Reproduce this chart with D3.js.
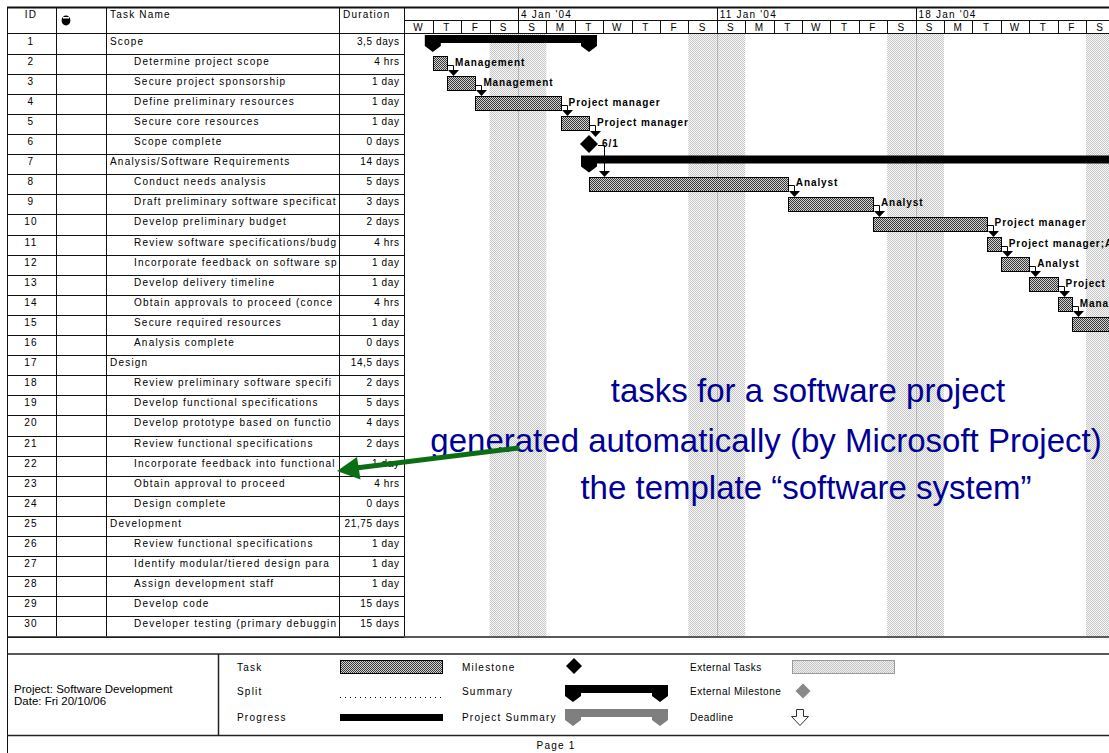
<!DOCTYPE html>
<html>
<head>
<meta charset="utf-8">
<script src="https://cdn.jsdelivr.net/npm/d3@7"></script>
<style>
body { margin: 0; background: #fff; }
svg { display: block; font-family: "Liberation Sans", Arial, sans-serif; }
.t { font-size: 10px; letter-spacing: 1.2px; fill: #000; }
.lbl { font-size: 10px; font-weight: bold; letter-spacing: 0.9px; fill: #000; }
</style>
</head>
<body>
<svg id="canvas"></svg>
<script>
// task table
const ids = [1,2,3,4,5,6,7,8,9,10,11,12,13,14,15,16,17,18,19,20,21,22,23,24,25,26,27,28,29,30]
const names = [
  "Scope", "Determine project scope", "Secure project sponsorship", "Define preliminary resources",
  "Secure core resources", "Scope complete", "Analysis/Software Requirements", "Conduct needs analysis",
  "Draft preliminary software specifications", "Develop preliminary budget",
  "Review software specifications/budget", "Incorporate feedback on software specifications",
  "Develop delivery timeline", "Obtain approvals to proceed (concept, deadlines, budget)",
  "Secure required resources", "Analysis complete", "Design",
  "Review preliminary software specifications", "Develop functional specifications",
  "Develop prototype based on functional specifications", "Review functional specifications",
  "Incorporate feedback into functional specifications", "Obtain approval to proceed",
  "Design complete", "Development", "Review functional specifications",
  "Identify modular/tiered design parameters", "Assign development staff", "Develop code",
  "Developer testing (primary debugging)"
]
const durations = [
  "3,5 days", "4 hrs", "1 day", "1 day", "1 day", "0 days", "14 days", "5 days", "3 days", "2 days",
  "4 hrs", "1 day", "1 day", "4 hrs", "1 day", "0 days", "14,5 days", "2 days", "5 days", "4 days",
  "2 days", "1 day", "4 hrs", "0 days", "21,75 days", "1 day", "1 day", "1 day", "15 days", "15 days"
]
const kinds = [
  "summary", "task", "task", "task", "task", "milestone", "summary", "task", "task", "task",
  "task", "task", "task", "task", "task", "milestone", "summary", "task", "task", "task",
  "task", "task", "task", "milestone", "summary", "task", "task", "task", "task", "task"
]
// 00:00 = start of the working day, 12:00 = midday
const starts = [
  "2004-01-01 00:00", "2004-01-01 00:00", "2004-01-01 12:00", "2004-01-02 12:00", "2004-01-05 12:00",
  "2004-01-06 12:00", "2004-01-06 12:00", "2004-01-06 12:00", "2004-01-13 12:00", "2004-01-16 12:00",
  "2004-01-20 12:00", "2004-01-21 00:00", "2004-01-22 00:00", "2004-01-23 00:00", "2004-01-23 12:00",
  "2004-01-26 12:00", "2004-01-26 12:00", "2004-01-26 12:00", "2004-01-28 12:00", "2004-02-04 12:00",
  "2004-02-10 12:00", "2004-02-12 12:00", "2004-02-13 12:00", "2004-02-14 00:00", "2004-02-16 00:00",
  "2004-02-16 00:00", "2004-02-17 00:00", "2004-02-18 00:00", "2004-02-19 00:00", "2004-02-20 00:00"
]
const finishes = [
  "2004-01-06 12:00", "2004-01-01 12:00", "2004-01-02 12:00", "2004-01-05 12:00", "2004-01-06 12:00",
  "2004-01-06 12:00", "2004-01-26 12:00", "2004-01-13 12:00", "2004-01-16 12:00", "2004-01-20 12:00",
  "2004-01-21 00:00", "2004-01-22 00:00", "2004-01-23 00:00", "2004-01-23 12:00", "2004-01-26 12:00",
  "2004-01-26 12:00", "2004-02-14 00:00", "2004-01-28 12:00", "2004-02-04 12:00", "2004-02-10 12:00",
  "2004-02-12 12:00", "2004-02-13 12:00", "2004-02-14 00:00", "2004-02-14 00:00", "2004-03-16 18:00",
  "2004-02-17 00:00", "2004-02-18 00:00", "2004-02-19 00:00", "2004-03-11 00:00", "2004-03-12 00:00"
]
const resources = [
  "", "Management", "Management", "Project manager", "Project manager", "", "", "Analyst", "Analyst",
  "Project manager", "Project manager;Analyst", "Analyst", "Project manager", "Management",
  "Project manager", "", "", "Analyst", "Analyst", "Analyst", "Management;Analyst", "Analyst",
  "Management", "", "", "Developer", "Developer", "Project manager", "Developer", "Developer"
]
const links = [[2,3],[3,4],[4,5],[5,6],[6,8],[8,9],[9,10],[10,11],[11,12],[12,13],[13,14],[14,15]]
const viewRange = ["2003-12-31 00:00", "2004-01-25 00:00"]
const noteLines = ["tasks for a software project", "generated automatically (by Microsoft Project)", "the template \u201csoftware system\u201d"]
const legendLeft = ["Task", "Split", "Progress"]
const legendMid = ["Milestone", "Summary", "Project Summary"]
const legendRight = ["External Tasks", "External Milestone", "Deadline"]

const W = 1109, H = 753
const svg = d3.select("#canvas").attr("width", W).attr("height", H)
const parse = d3.timeParse("%Y-%m-%d %H:%M")
const c = v => Math.round(v) + 0.5

const tasks = ids.map((id, i) => ({
  id, name: names[i], dur: durations[i], kind: kinds[i],
  start: parse(starts[i]), end: parse(finishes[i]), res: resources[i]
}))
const byId = new Map(tasks.map(d => [d.id, d]))

const headTop = 7, tierY = 20, bodyTop = 33.5, rowH = 20.1
const cols = [7, 56, 106, 339, 404]
const bodyBottom = bodyTop + ids.length * rowH

const x = d3.scaleTime()
  .domain(viewRange.map(parse))
  .range([404.4, 404.4 + 25 * 28.4])
const y = d3.scaleBand().domain(ids).range([bodyTop, bodyBottom])
const cy = id => y(id) + y.bandwidth() / 2

const defs = svg.append("defs")
function stipple(id, bg, fg) {
  const p = defs.append("pattern").attr("id", id)
    .attr("width", 2).attr("height", 2).attr("patternUnits", "userSpaceOnUse")
  p.append("rect").attr("width", 2).attr("height", 2).attr("fill", bg)
  p.append("rect").attr("width", 1).attr("height", 1).attr("fill", fg)
  p.append("rect").attr("x", 1).attr("y", 1).attr("width", 1).attr("height", 1).attr("fill", fg)
}
stipple("wknd", "#f8f8f8", "#c6c6c6")
stipple("bar", "#d2d2d2", "#383838")
stipple("ext", "#f0f0f0", "#c4c4c4")
defs.append("clipPath").attr("id", "gclip").append("rect")
  .attr("x", 405).attr("y", 0).attr("width", W - 405).attr("height", bodyBottom)

// ---- gantt background
const days = d3.timeDay.range(...x.domain())
const weeks = d3.timeWeek.range(...x.domain())
const gantt = svg.append("g").attr("clip-path", "url(#gclip)")

gantt.selectAll("rect.wk")
  .data(days.filter(d => d.getDay() % 6 === 0))
  .join("rect").attr("class", "wk")
  .attr("x", d => x(d)).attr("width", d => x(d3.timeDay.offset(d, 1)) - x(d))
  .attr("y", bodyTop).attr("height", bodyBottom - bodyTop)
  .attr("fill", "url(#wknd)")

gantt.selectAll("line.wl")
  .data(weeks)
  .join("line").attr("class", "wl")
  .attr("x1", d => c(x(d))).attr("x2", d => c(x(d)))
  .attr("y1", bodyTop).attr("y2", bodyBottom)
  .attr("stroke", "#8a8a8a").attr("stroke-dasharray", "1,1")

// ---- timescale header
const head = svg.append("g").attr("clip-path", "url(#gclip)")
head.selectAll("line.ds")
  .data(days)
  .join("line").attr("class", "ds")
  .attr("x1", d => c(x(d))).attr("x2", d => c(x(d)))
  .attr("y1", tierY).attr("y2", bodyTop)
  .attr("stroke", "#111")
head.selectAll("text.dl")
  .data(days)
  .join("text").attr("class", "t dl")
  .attr("x", d => x(d) + 14.2).attr("y", 30.5)
  .attr("text-anchor", "middle")
  .text(d => d3.timeFormat("%a")(d)[0])
head.selectAll("line.ws")
  .data(weeks)
  .join("line").attr("class", "ws")
  .attr("x1", d => c(x(d))).attr("x2", d => c(x(d)))
  .attr("y1", headTop).attr("y2", tierY)
  .attr("stroke", "#111")
head.selectAll("text.wlab")
  .data(weeks)
  .join("text").attr("class", "t wlab")
  .attr("x", d => x(d) + 3).attr("y", 17.5)
  .text(d => d3.timeFormat("%-d %b '%y")(d))
svg.append("line").attr("x1", cols[4]).attr("x2", W).attr("y1", c(tierY)).attr("y2", c(tierY)).attr("stroke", "#111")

// ---- table grid
const grid = svg.append("g").attr("stroke", "#111")
grid.selectAll("line.rl")
  .data(ids)
  .join("line").attr("class", "rl")
  .attr("x1", cols[0]).attr("x2", cols[4])
  .attr("y1", d => c(y(d) + rowH)).attr("y2", d => c(y(d) + rowH))
grid.append("line").attr("x1", cols[0]).attr("x2", W).attr("y1", c(bodyTop - 1)).attr("y2", c(bodyTop - 1))
grid.selectAll("line.cl")
  .data(cols)
  .join("line").attr("class", "cl")
  .attr("x1", d => c(d)).attr("x2", d => c(d))
  .attr("y1", headTop).attr("y2", bodyBottom)
grid.append("line").attr("x1", cols[0]).attr("x2", W).attr("y1", headTop + 0.5).attr("y2", headTop + 0.5)
  .attr("stroke-width", 2)
grid.append("line").attr("x1", c(cols[0])).attr("x2", c(cols[0])).attr("y1", headTop).attr("y2", H)

// header labels
svg.append("text").attr("class", "t").attr("x", 31).attr("y", 17.5).attr("text-anchor", "middle").text("ID")
svg.append("text").attr("class", "t").attr("x", 110).attr("y", 17.5).text("Task Name")
svg.append("text").attr("class", "t").attr("x", 343).attr("y", 17.5).text("Duration")
svg.append("ellipse").attr("cx", 66).attr("cy", 20.5).attr("rx", 4.4).attr("ry", 5).attr("fill", "#000")
svg.append("rect").attr("x", 63).attr("y", 17).attr("width", 6).attr("height", 1.5).attr("fill", "#fff")

// table rows
const rows = svg.append("g").selectAll("g").data(tasks).join("g")
rows.append("text").attr("class", "t")
  .attr("x", 31).attr("y", d => y(d.id) + 11).attr("text-anchor", "middle")
  .text(d => d.id)
rows.append("text").attr("class", "t")
  .attr("x", d => d.kind === "summary" ? 110 : 134).attr("y", d => y(d.id) + 11)
  .text(d => d.name)
  .each(function(d) {
    // cut the name at the column edge, as the printout does
    const room = cols[3] - 1 - (d.kind === "summary" ? 110 : 134)
    let s = d.name
    while (s.length > 1 && this.getComputedTextLength() > room) {
      s = s.slice(0, -1)
      this.textContent = s
    }
  })
rows.append("text").attr("class", "t")
  .attr("x", 399.5).attr("y", d => y(d.id) + 11).attr("text-anchor", "end")
  .style("letter-spacing", "0.6px")
  .text(d => d.dur)

// ---- bars
function summaryPath(x0, x1, yT) {
  return `M${x0 - 8},${yT}H${x1 + 8}V${yT + 11}L${x1},${yT + 17}L${x1 - 8},${yT + 11}V${yT + 8}` +
    `H${x0 + 8}V${yT + 11}L${x0},${yT + 17}L${x0 - 8},${yT + 11}Z`
}
function diamond(mx, my, r) {
  return `M${mx},${my - r}L${mx + r},${my}L${mx},${my + r}L${mx - r},${my}Z`
}
const marks = gantt.append("g")
marks.selectAll("path.sum")
  .data(tasks.filter(d => d.kind === "summary"))
  .join("path").attr("class", "sum")
  .attr("d", d => summaryPath(x(d.start), x(d.end), y(d.id) + 1.5))
  .attr("fill", "#000")
marks.selectAll("rect.bar")
  .data(tasks.filter(d => d.kind === "task"))
  .join("rect").attr("class", "bar")
  .attr("x", d => Math.round(x(d.start)) + 0.5).attr("y", d => Math.round(cy(d.id) - 7.5) + 0.5)
  .attr("width", d => Math.round(x(d.end)) - Math.round(x(d.start))).attr("height", 14)
  .attr("fill", "url(#bar)").attr("stroke", "#000")
marks.selectAll("path.ms")
  .data(tasks.filter(d => d.kind === "milestone"))
  .join("path").attr("class", "ms")
  .attr("d", d => diamond(x(d.start), cy(d.id), 9))
  .attr("fill", "#000")

const finishX = d => d.kind === "milestone" ? x(d.end) + 9 : x(d.end)
const linkG = marks.selectAll("g.lk")
  .data(links.map(([a, b]) => ({ a: byId.get(a), b: byId.get(b) })))
  .join("g").attr("class", "lk")
linkG.append("path")
  .attr("d", d => {
    const px = c(finishX(d.a) + 6), py = c(cy(d.a.id) + 1)
    return `M${finishX(d.a)},${py}H${px}V${cy(d.b.id) - 12}`
  })
  .attr("fill", "none").attr("stroke", "#000")
linkG.append("path")
  .attr("d", d => {
    const px = c(finishX(d.a) + 6), tip = Math.round(cy(d.b.id) - 7.5)
    return `M${px - 5.5},${tip - 6}H${px + 5.5}L${px},${tip}Z`
  })
  .attr("fill", "#000")

marks.selectAll("text.res")
  .data(tasks.filter(d => d.kind === "task" && d.res))
  .join("text").attr("class", "lbl res")
  .attr("x", d => x(d.end) + 8).attr("y", d => cy(d.id) + 2)
  .text(d => d.res)
marks.selectAll("text.msl")
  .data(tasks.filter(d => d.kind === "milestone"))
  .join("text").attr("class", "lbl msl")
  .attr("x", d => x(d.end) + 13).attr("y", d => cy(d.id) + 3)
  .text(d => d3.timeFormat("%-d/%-m")(d.end))

// ---- footer / legend
svg.append("line").attr("x1", cols[0]).attr("x2", W).attr("y1", bodyBottom + 0.5).attr("y2", bodyBottom + 0.5)
  .attr("stroke", "#222").attr("stroke-width", 1.5)
const legTop = 654, legBot = 735.5
svg.append("line").attr("x1", cols[0]).attr("x2", W).attr("y1", legTop).attr("y2", legTop).attr("stroke", "#222").attr("stroke-width", 1.5)
svg.append("line").attr("x1", cols[0]).attr("x2", W).attr("y1", legBot).attr("y2", legBot).attr("stroke", "#222").attr("stroke-width", 1.5)
svg.append("line").attr("x1", 218.5).attr("x2", 218.5).attr("y1", legTop).attr("y2", legBot).attr("stroke", "#222").attr("stroke-width", 1.5)

svg.append("text").attr("x", 14).attr("y", 693).attr("font-size", 11.5).attr("fill", "#000").text("Project: Software Development")
svg.append("text").attr("x", 14).attr("y", 705).attr("font-size", 11.5).attr("fill", "#000").text("Date: Fri 20/10/06")

const legY = [667, 691, 717]
svg.selectAll("text.l1").data(legendLeft).join("text").attr("class", "t l1")
  .attr("x", 237).attr("y", (d, i) => legY[i] + 3.5).text(d => d)
svg.selectAll("text.l2").data(legendMid).join("text").attr("class", "t l2")
  .attr("x", 462).attr("y", (d, i) => legY[i] + 3.5).text(d => d)
svg.selectAll("text.l3").data(legendRight).join("text").attr("class", "t l3")
  .attr("x", 690).attr("y", (d, i) => legY[i] + 3.5).style("letter-spacing", "0.5px").text(d => d)

svg.append("rect").attr("x", 340.5).attr("y", 660.5).attr("width", 102).attr("height", 13)
  .attr("fill", "url(#bar)").attr("stroke", "#000")
svg.append("line").attr("x1", 340).attr("x2", 443).attr("y1", 697.5).attr("y2", 697.5)
  .attr("stroke", "#000").attr("stroke-dasharray", "1,4")
svg.append("rect").attr("x", 340).attr("y", 714).attr("width", 103).attr("height", 7).attr("fill", "#000")
svg.append("path").attr("d", diamond(574, 666, 8)).attr("fill", "#000")
svg.append("path").attr("d", summaryPath(573, 660, 685)).attr("fill", "#000")
svg.append("path").attr("d", summaryPath(573, 660, 709)).attr("fill", "#7f7f7f")
svg.append("rect").attr("x", 792.5).attr("y", 660.5).attr("width", 102).attr("height", 13)
  .attr("fill", "url(#ext)").attr("stroke", "#9a9a9a")
svg.append("path").attr("d", diamond(803, 691, 7.5)).attr("fill", "#888")
svg.append("path")
  .attr("d", "M796.5,709.5H803.5V716.5H808.5L800,725.5L791.5,716.5H796.5Z")
  .attr("fill", "#fff").attr("stroke", "#333")
svg.append("text").attr("class", "t").attr("x", 556).attr("y", 749).attr("text-anchor", "middle").text("Page 1")

// ---- annotation
const note = svg.append("g").attr("fill", "#000096").attr("font-size", 33).attr("text-anchor", "middle")
note.selectAll("text").data(noteLines).join("text")
  .attr("x", (d, i) => [808, 766, 806][i]).attr("y", (d, i) => [402, 452, 499][i])
  .text(d => d)
const arrow = svg.append("g").attr("fill", "#0c6e14")
arrow.append("line").attr("x1", 519).attr("y1", 448).attr("x2", 356).attr("y2", 468)
  .attr("stroke", "#0c6e14").attr("stroke-width", 5)
arrow.append("path").attr("d", "M337,471L360.5,479.5L357,457Z")
</script>
</body>
</html>
